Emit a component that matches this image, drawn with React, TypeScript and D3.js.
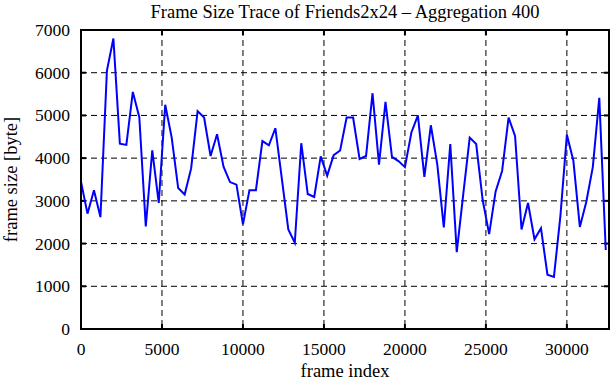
import React from "react";
import * as d3 from "d3";

const frameStep = 400;
const frameSizes = [
  3450, 2700, 3250, 2620, 6050, 6800, 4340, 4310, 5550, 4960,
  2400, 4180, 2950, 5250, 4480, 3300, 3150, 3760, 5100, 4950,
  4050, 4560, 3800, 3440, 3380, 2450, 3250, 3250, 4400, 4300,
  4700, 3520, 2330, 2020, 4350, 3160, 3090, 4040, 3590, 4070,
  4180, 4950, 4950, 3980, 4050, 5520, 3850, 5320, 4030, 3930,
  3790, 4600, 5000, 3560, 4770, 3850, 2380, 4330, 1800, 3150,
  4480, 4330, 3020, 2220, 3220, 3700, 4950, 4520, 2330, 2950,
  2100, 2360, 1270, 1220, 2650, 4550, 3940, 2390, 2980, 3790,
  5410, 1850,
];
const xTicks = [0, 5000, 10000, 15000, 20000, 25000, 30000];
const yTicks = [0, 1000, 2000, 3000, 4000, 5000, 6000, 7000];
const xMax = 32600;
const yMax = 7000;
const title = "Frame Size Trace of Friends2x24 \u2013 Aggregation 400";
const xLabel = "frame index";
const yLabel = "frame size [byte]";

const W = 611;
const H = 380;
const left = 81;
const right = 609;
const top = 30;
const bottom = 329;
const font = "'Liberation Serif', 'Times New Roman', serif";

export default function App() {
  const x = d3.scaleLinear().domain([0, xMax]).range([left, right]);
  const y = d3.scaleLinear().domain([0, yMax]).range([bottom, top]);
  const data = frameSizes.map((v, i) => [i * frameStep, v] as [number, number]);
  const line = d3
    .line<[number, number]>()
    .x((d) => x(d[0]))
    .y((d) => y(d[1]));
  const tick = 5;
  return (
    <svg
      width={W}
      height={H}
      style={{ position: "absolute", left: 0, top: 0, background: "#fff" }}
      fontFamily={font}
    >
      <rect x={0} y={0} width={W} height={H} fill="#fff" />
      {xTicks.slice(1).map((t) => (
        <line key={"gx" + t} x1={x(t)} x2={x(t)} y1={top} y2={bottom} stroke="#000" strokeWidth={1} strokeDasharray="6,4" />
      ))}
      {yTicks.slice(1, -1).map((t) => (
        <line key={"gy" + t} x1={left} x2={right} y1={y(t)} y2={y(t)} stroke="#000" strokeWidth={1} strokeDasharray="6,4" />
      ))}
      {xTicks.map((t) => (
        <g key={"tx" + t}>
          <line x1={x(t)} x2={x(t)} y1={bottom} y2={bottom - tick} stroke="#000" strokeWidth={2} />
          <line x1={x(t)} x2={x(t)} y1={top} y2={top + tick} stroke="#000" strokeWidth={2} />
          <text x={x(t)} y={bottom + 26} textAnchor="middle" fontSize={17.5} fill="#000">
            {t}
          </text>
        </g>
      ))}
      {yTicks.map((t) => (
        <g key={"ty" + t}>
          <line x1={left} x2={left + tick} y1={y(t)} y2={y(t)} stroke="#000" strokeWidth={2} />
          <line x1={right} x2={right - tick} y1={y(t)} y2={y(t)} stroke="#000" strokeWidth={2} />
          <text x={left - 11} y={y(t) + 6} textAnchor="end" fontSize={17.5} fill="#000">
            {t}
          </text>
        </g>
      ))}
      <path d={line(data) || ""} fill="none" stroke="#0000ff" strokeWidth={2} strokeLinejoin="miter" />
      <rect x={left} y={top} width={right - left} height={bottom - top} fill="none" stroke="#000" strokeWidth={2} />
      <text x={(left + right) / 2 + 0} y={18} textAnchor="middle" fontSize={18.5} fill="#000">
        {title}
      </text>
      <text x={(left + right) / 2} y={377} textAnchor="middle" fontSize={18.5} fill="#000">
        {xLabel}
      </text>
      <text
        transform={`translate(${17},${(top + bottom) / 2}) rotate(-90)`}
        textAnchor="middle"
        fontSize={18.5}
        fill="#000"
      >
        {yLabel}
      </text>
    </svg>
  );
}
